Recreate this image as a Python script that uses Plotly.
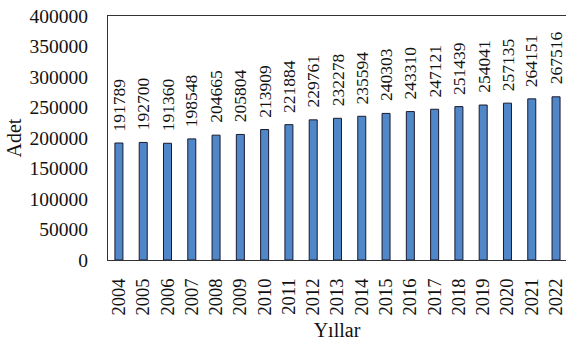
import plotly.graph_objects as go

years = [str(y) for y in range(2004, 2023)]
counts = [191789, 192700, 191360, 198548, 204665, 205804, 213909, 221884, 229761,
          232278, 235594, 240303, 243310, 247121, 251439, 254041, 257135, 264151, 267516]
y_ticks = [0, 50000, 100000, 150000, 200000, 250000, 300000, 350000, 400000]

FONT = "Liberation Serif, Times New Roman, serif"

fig = go.Figure()
fig.add_trace(go.Bar(
    x=years,
    y=counts,
    width=0.33,
    marker=dict(color="#5087c8", line=dict(color="#1a1a2e", width=1)),
    hoverinfo="x+y",
))

# rotated value labels sitting above each bar (x given as category index)
for i, v in enumerate(counts):
    fig.add_annotation(
        x=i, y=v, text=str(v), textangle=-90,
        xanchor="center", yanchor="bottom", yshift=10,
        showarrow=False, font=dict(family=FONT, size=17.5, color="#111111"),
    )

fig.update_layout(
    width=566, height=341,
    margin=dict(l=108, r=0, t=16, b=81),
    paper_bgcolor="white", plot_bgcolor="white",
    showlegend=False,
    font=dict(family=FONT, color="#111111"),
    xaxis=dict(
        type="category", range=[-0.45, 18.41],
        tickangle=-90, tickfont=dict(size=18.5),
        showgrid=False, showline=True, linecolor="#333333", linewidth=1,
        mirror=True, ticks="outside", ticklen=10, tickcolor="rgba(0,0,0,0)",
        title=dict(text="Yıllar", font=dict(size=20), standoff=9),
    ),
    yaxis=dict(
        range=[0, 400000], tickvals=y_ticks, ticktext=[str(t) for t in y_ticks],
        tickfont=dict(size=19.5),
        showgrid=False, zeroline=False, showline=True, linecolor="#333333", linewidth=1,
        mirror=False, ticks="outside", ticklen=15, tickcolor="rgba(0,0,0,0)",
        title=dict(text="Adet", font=dict(size=20), standoff=2),
    ),
)

fig.write_html("out.html")
